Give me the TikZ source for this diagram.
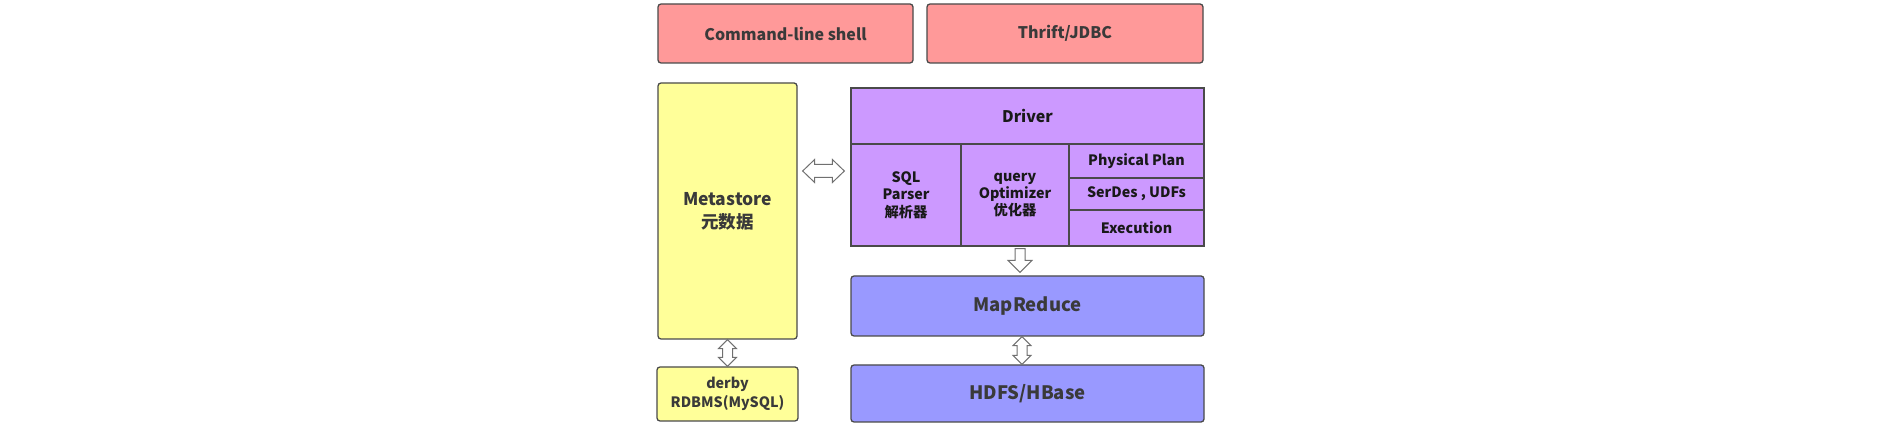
\documentclass[tikz,border=0pt]{standalone}
\usepackage{fontspec}
\setmainfont{Noto Sans CJK SC}
\usepackage{tikz}
\usetikzlibrary{calc}
\definecolor{pinkbox}{HTML}{FF9999}
\definecolor{yellowbox}{HTML}{FFFF99}
\definecolor{purplebox}{HTML}{CC99FF}
\definecolor{bluebox}{HTML}{9999FF}
\definecolor{edge}{HTML}{4A4A4A}
\definecolor{label}{HTML}{3A3A3A}
\definecolor{arrowedge}{HTML}{707070}

\begin{document}
\begin{tikzpicture}[x=1pt, y=-1pt,
  every node/.style={draw=edge, line width=1.3pt, inner sep=0pt, align=center, text=label},
  box/.style={rounded corners=3pt},
  cell/.style={fill=purplebox, text=black!90, font=\bfseries\fontsize{14.3}{17.3}\selectfont},
  hdbl/.style={draw=arrowedge, fill=white, line width=1pt, to path={
    let \p1=(\tikztostart), \p2=(\tikztotarget) in
    (\x1,\y1) -- (\x1+12pt,\y1+11.5pt) -- (\x1+12pt,\y1+6.5pt) -- (\x2-12pt,\y1+6.5pt) -- (\x2-12pt,\y1+11.5pt)
    -- (\x2,\y1) -- (\x2-12pt,\y1-11.5pt) -- (\x2-12pt,\y1-6.5pt) -- (\x1+12pt,\y1-6.5pt) -- (\x1+12pt,\y1-11.5pt) -- cycle}},
  vdbl/.style={draw=arrowedge, fill=white, line width=1pt, to path={
    let \p1=(\tikztostart), \p2=(\tikztotarget) in
    (\x1,\y1) -- (\x1+9pt,\y1-9pt) -- (\x1+5pt,\y1-9pt) -- (\x1+5pt,\y2+9pt) -- (\x1+9pt,\y2+9pt)
    -- (\x1,\y2) -- (\x1-9pt,\y2+9pt) -- (\x1-5pt,\y2+9pt) -- (\x1-5pt,\y1-9pt) -- (\x1-9pt,\y1-9pt) -- cycle}},
  downarrow/.style={draw=arrowedge, fill=white, line width=1pt, to path={
    let \p1=(\tikztostart), \p2=(\tikztotarget) in
    (\x1-5pt,\y1) -- (\x1+5pt,\y1) -- (\x1+5pt,\y2+12pt) -- (\x1+12pt,\y2+12pt)
    -- (\x1,\y2) -- (\x1-12pt,\y2+12pt) -- (\x1-5pt,\y2+12pt) -- cycle}}]
\useasboundingbox (0,0) rectangle (1899,435);
\node[box, fill=pinkbox, minimum width=255pt, minimum height=59pt, font=\bfseries\fontsize{16}{19}\selectfont] (1) at (785.5, 33.5) {Command-line shell};
\node[box, fill=pinkbox, minimum width=276pt, minimum height=59pt, font=\bfseries\fontsize{16}{19}\selectfont] (2) at (1065, 33.5) {Thrift/JDBC};
\node[box, fill=yellowbox, minimum width=139pt, minimum height=256pt, font=\bfseries\fontsize{17.5}{23}\selectfont] (3) at (727.5, 211) {Metastore\\元数据};
\node[fill=purplebox, text=black!90, minimum width=353pt, minimum height=56pt, font=\bfseries\fontsize{16}{18}\selectfont] (4) at (1027.5, 116) {Driver};
\node[cell, minimum width=110pt, minimum height=102pt] (5) at (906, 195) {SQL\\Parser\\解析器};
\node[cell, minimum width=108pt, minimum height=102pt] (6) at (1015, 195) {query\\Optimizer\\优化器};
\node[cell, minimum width=135pt, minimum height=34pt] (7) at (1136.5, 161) {Physical Plan};
\node[cell, minimum width=135pt, minimum height=32pt] (8) at (1136.5, 194) {SerDes , UDFs};
\node[cell, minimum width=135pt, minimum height=36pt] (9) at (1136.5, 228) {Execution};
\node[box, fill=bluebox, minimum width=353pt, minimum height=60pt, font=\bfseries\fontsize{18.5}{22}\selectfont] (10) at (1027.5, 306) {MapReduce};
\node[box, fill=bluebox, minimum width=353pt, minimum height=57pt, font=\bfseries\fontsize{18.5}{22}\selectfont] (11) at (1027.5, 393.5) {HDFS/HBase};
\node[box, fill=yellowbox, minimum width=141pt, minimum height=54pt, font=\bfseries\fontsize{14.3}{18.3}\selectfont] (12) at (727.5, 394) {derby\\RDBMS(MySQL)};
\draw[hdbl] ([xshift=5pt, yshift=40pt]3.east) to ([xshift=-6pt]4.west);
\draw[downarrow] ([xshift=5pt, yshift=-2pt]6.south) to ([yshift=3pt]10.north);
\draw[vdbl] ([xshift=-5.5pt]10.south) to (11.north);
\draw[vdbl] (3.south) to (12.north);
\end{tikzpicture}
\end{document}
